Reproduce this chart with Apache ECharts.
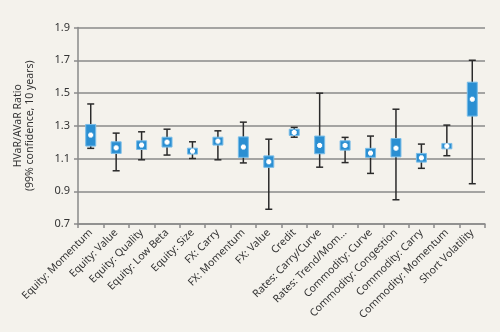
<!DOCTYPE html>
<html>
<head>
<meta charset="utf-8">
<script src="https://cdn.jsdelivr.net/npm/echarts@6/dist/echarts.min.js"></script>
<style>
html,body{margin:0;padding:0;background:#f4f2ec;}
#c{width:500px;height:332px;}
</style>
</head>
<body>
<div id="c"></div>
<script>
const categories = ["Equity: Momentum","Equity: Value","Equity: Quality","Equity: Low Beta","Equity: Size","FX: Carry","FX: Momentum","FX: Value","Credit","Rates: Carry/Curve","Rates: Trend/Mom...","Commodity: Curve","Commodity: Congestion","Commodity: Carry","Commodity: Momentum","Short Volatility"];
const whiskerLow  = [1.162,1.025,1.092,1.121,1.100,1.092,1.073,0.790,1.230,1.047,1.075,1.009,0.848,1.040,1.117,0.946];
const boxLow      = [1.176,1.131,1.155,1.170,1.127,1.182,1.107,1.046,1.241,1.129,1.151,1.107,1.110,1.078,1.159,1.359];
const meanValues  = [1.243,1.165,1.182,1.200,1.145,1.206,1.170,1.080,1.259,1.180,1.180,1.133,1.163,1.104,1.176,1.462];
const boxHigh     = [1.308,1.202,1.208,1.230,1.163,1.230,1.232,1.116,1.279,1.237,1.208,1.162,1.222,1.131,1.192,1.566];
const whiskerHigh = [1.433,1.255,1.263,1.279,1.202,1.269,1.322,1.218,1.290,1.499,1.229,1.237,1.401,1.188,1.304,1.700];
const yTicks = {min:0.7, max:1.9, interval:0.2};

const data = categories.map((c,i)=>[i, whiskerLow[i], boxLow[i], meanValues[i], boxHigh[i], whiskerHigh[i]]);

const chart = echarts.init(document.getElementById('c'), null, {renderer:'canvas'});
const FONT = '"Noto Sans", sans-serif';

function renderItem(params, api){
  const i = api.value(0);
  const pLo = api.coord([i, api.value(1)]);
  const bLo = api.coord([i, api.value(2)]);
  const pM  = api.coord([i, api.value(3)]);
  const bHi = api.coord([i, api.value(4)]);
  const pHi = api.coord([i, api.value(5)]);
  const x = pLo[0];
  const bw = 10, cw = 7;
  const stroke = {stroke:'#2a2a2a', lineWidth:1.5};
  return {
    type:'group',
    children:[
      {type:'line', shape:{x1:x,y1:pLo[1],x2:x,y2:pHi[1]}, style:stroke},
      {type:'line', shape:{x1:x-cw/2,y1:pLo[1],x2:x+cw/2,y2:pLo[1]}, style:stroke},
      {type:'line', shape:{x1:x-cw/2,y1:pHi[1],x2:x+cw/2,y2:pHi[1]}, style:stroke},
      {type:'rect', shape:{x:x-bw/2,y:bHi[1],width:bw,height:bLo[1]-bHi[1]}, style:{fill:'#2b8fd2',stroke:'#79bde8',lineWidth:1}},
      {type:'rect', shape:{x:x-2.5,y:pM[1]-1.5,width:5,height:3}, style:{fill:'#ffffff'}},
      {type:'rect', shape:{x:x-1.5,y:pM[1]-2.5,width:3,height:5}, style:{fill:'#ffffff'}}
    ]
  };
}

chart.setOption({
  backgroundColor:'#f4f2ec',
  animation:false,
  grid:{left:78, right:15, top:27.5, bottom:108, containLabel:false},
  xAxis:{
    type:'category',
    data:categories,
    boundaryGap:true,
    axisLine:{show:true, lineStyle:{color:'#8a8a8a', width:1.5}},
    axisTick:{show:true, length:4, lineStyle:{color:'#8a8a8a', width:1.5}},
    axisLabel:{interval:0, rotate:45, fontSize:10.5, color:'#333', fontFamily:FONT, margin:7},
    splitLine:{show:false}
  },
  yAxis:{
    type:'value',
    min:yTicks.min, max:yTicks.max, interval:yTicks.interval,
    name:'HVaR/AVaR Ratio\n(99% confidence, 10 years)',
    nameLocation:'middle',
    nameGap:42,
    nameTextStyle:{fontSize:10.5, color:'#333', fontFamily:FONT, lineHeight:12},
    axisLine:{show:true, lineStyle:{color:'#8a8a8a', width:1.5}},
    axisTick:{show:true, length:4, lineStyle:{color:'#8a8a8a', width:1.5}},
    axisLabel:{fontSize:11, color:'#333', fontFamily:FONT, margin:8, formatter:v=>v.toFixed(1)},
    splitLine:{show:true, lineStyle:{color:'#8a8a8a', width:1.5}}
  },
  series:[{
    type:'custom',
    renderItem:renderItem,
    encode:{x:0, y:[1,2,3,4,5]},
    data:data,
    z:3
  }]
});
</script>
</body>
</html>
